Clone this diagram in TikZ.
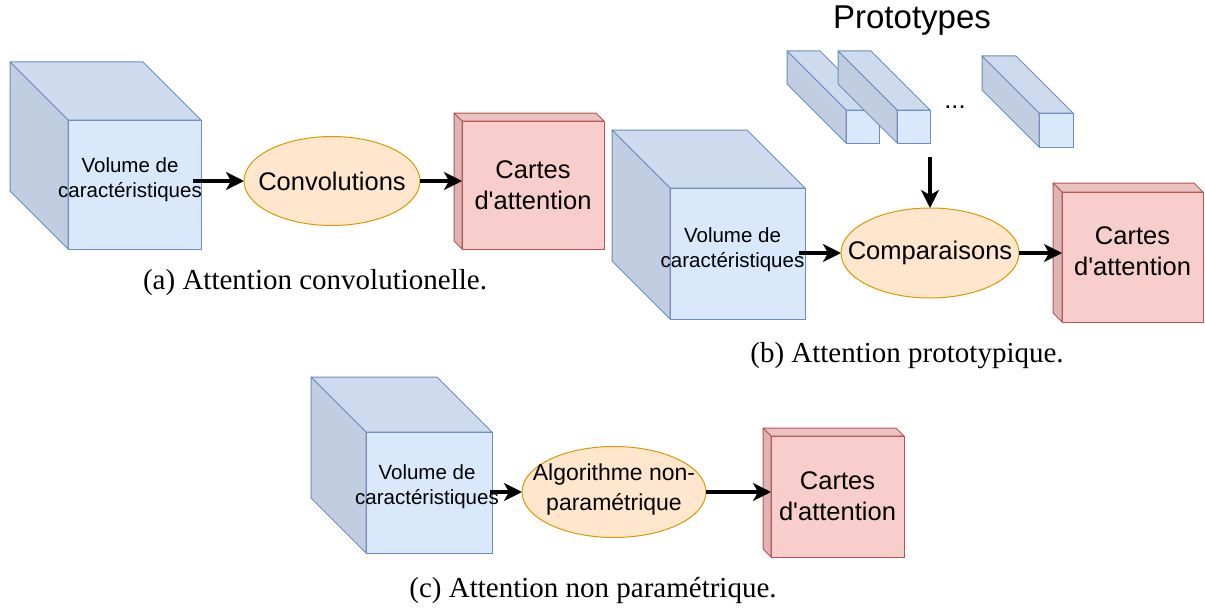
\documentclass[tikz,border=0pt]{standalone}
\usepackage{fontspec}
\setmainfont{Liberation Serif}
\newfontfamily\arialf{Liberation Sans}
\usetikzlibrary{shapes.geometric,arrows.meta}
\definecolor{bfront}{HTML}{DAE8FC}
\definecolor{btop}{RGB}{206,219,238}
\definecolor{bside}{RGB}{193,205,224}
\definecolor{bstroke}{HTML}{6C8EBF}
\definecolor{rfront}{HTML}{F8CECC}
\definecolor{rtop}{RGB}{234,194,193}
\definecolor{rside}{RGB}{222,180,180}
\definecolor{rstroke}{HTML}{B85450}
\definecolor{ofill}{HTML}{FFE6CC}
\definecolor{ostroke}{HTML}{D79B00}
\newcommand\boxdepth[5]{%
  \filldraw[draw=#5,fill=#3,line width=1pt,line join=round] (#1.north west) -- ++(-#2,-#2) -- ([shift={(-#2,-#2)}]#1.north east) -- (#1.north east) -- cycle;
  \filldraw[draw=#5,fill=#4,line width=1pt,line join=round] (#1.north west) -- ++(-#2,-#2) -- ([shift={(-#2,-#2)}]#1.south west) -- (#1.south west) -- cycle;
}
\begin{document}
\begin{tikzpicture}[x=1pt,y=-1pt,
  bluefront/.style={draw=bstroke,fill=bfront,line width=1pt,outer sep=0pt,inner sep=0pt},
  redfront/.style={draw=rstroke,fill=rfront,line width=1pt,outer sep=0pt,inner sep=0pt,align=center,font=\arialf\fontsize{25.5}{31}\selectfont},
  redtext/.style={align=center,inner sep=0pt,font=\arialf\fontsize{25.5}{31}\selectfont},
  vollabel/.style={align=center,inner sep=0pt,font=\arialf\fontsize{20.5}{25}\selectfont},
  proc/.style={ellipse,draw=ostroke,fill=ofill,line width=1pt,inner sep=0pt,outer sep=0pt},
  proctext/.style={align=center,inner sep=0pt,font=\arialf\fontsize{25.5}{31}\selectfont},
  caption/.style={inner sep=0pt,font=\fontsize{29}{34}\selectfont},
  arr/.style={line width=3.5pt,-{Stealth[length=18pt,width=18pt,inset=5pt]}}]
\useasboundingbox (0,0) rectangle (1205,610);

% ---------- (a) ----------
\node[bluefront,minimum width=133,minimum height=129] (fa) at (134.5,184.5) {};
\boxdepth{fa}{58}{btop}{bside}{bstroke}
\node[vollabel] (la) at (130,179.5) {Volume de\\caractéristiques};
\node[proc,minimum width=176,minimum height=89] (conv) at (332,181) {};
\node[proctext] (convt) at (conv.center) {Convolutions};
\node[redfront,minimum width=142,minimum height=128] (ca) at (533,185) {Cartes\\d'attention};
\boxdepth{ca}{8}{rtop}{rside}{rstroke}
\draw[arr] ([xshift=-8]fa.east |- conv.west) -- (conv.west);
\draw[arr] (conv.east) -- (conv.east -| ca.west);
\node[caption] (capa) at (315,283) {(a) Attention convolutionelle.};

% ---------- (b) ----------
\node[font=\arialf\fontsize{33}{38}\selectfont,inner sep=0pt] (prot) at (912,21) {Prototypes};
\node[bluefront,minimum width=33,minimum height=33] (p1) at (862.5,126.5) {};
\boxdepth{p1}{59}{btop}{bside}{bstroke}
\node[bluefront,minimum width=33,minimum height=33] (p2) at (913.5,126.5) {};
\boxdepth{p2}{59}{btop}{bside}{bstroke}
\node[inner sep=0pt,font=\arialf\fontsize{25.5}{31}\selectfont] (dots) at (955,107) {...};
\node[bluefront,minimum width=34,minimum height=34] (p3) at (1056,130) {};
\boxdepth{p3}{57}{btop}{bside}{bstroke}

\node[bluefront,minimum width=135,minimum height=131] (fb) at (737.5,253.5) {};
\boxdepth{fb}{58}{btop}{bside}{bstroke}
\node[vollabel] (lb) at (732.5,249.5) {Volume de\\caractéristiques};
\node[proc,minimum width=178,minimum height=90] (comp) at (930,253) {};
\node[proctext] (compt) at (comp.center) {Comparaisons};
\node[redfront,minimum width=141,minimum height=130] (cb) at (1132.5,257) {};
\node[redtext] (cbt) at (1132.5,251) {Cartes\\d'attention};
\boxdepth{cb}{9}{rtop}{rside}{rstroke}
\coordinate (ptop) at (930,157);
\draw[arr] (ptop) -- (comp.north);
\draw[arr] ([xshift=-6]fb.east |- comp.west) -- (comp.west);
\draw[arr] (comp.east) -- (comp.east -| cb.west);
\node[caption] (capb) at (907,356) {(b) Attention prototypique.};

% ---------- (c) ----------
\node[bluefront,minimum width=126,minimum height=121] (fc) at (429,492.5) {};
\boxdepth{fc}{55}{btop}{bside}{bstroke}
\node[vollabel] (lc) at (427,487) {Volume de\\caractéristiques};
\node[proc,minimum width=184,minimum height=91] (algo) at (614,492) {};
\node[proctext,font=\arialf\fontsize{23}{30}\selectfont] (algot) at (614,490) {Algorithme non-\\paramétrique};
\node[redfront,minimum width=133,minimum height=121] (cc) at (837.5,496.5) {Cartes\\d'attention};
\boxdepth{cc}{8}{rtop}{rside}{rstroke}
\draw[arr] ([xshift=-2]fc.east |- algo.west) -- (algo.west);
\draw[arr] (algo.east) -- (algo.east -| cc.west);
\node[caption] (capc) at (593,590) {(c) Attention non paramétrique.};
\end{tikzpicture}
\end{document}
